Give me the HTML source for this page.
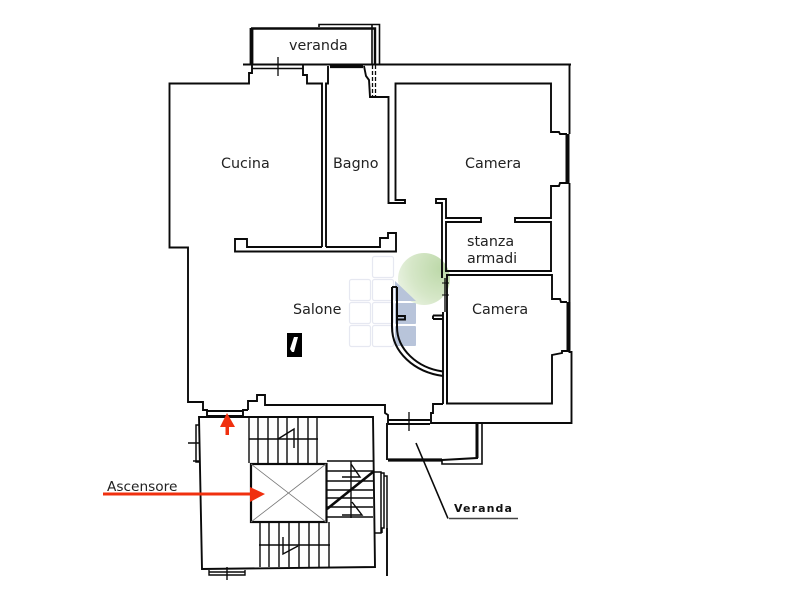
<!DOCTYPE html>
<html><head><meta charset="utf-8"><style>
html,body{margin:0;padding:0;background:#fff;width:800px;height:600px;overflow:hidden}
svg{display:block}
text{font-family:"DejaVu Sans",sans-serif;fill:#222}
</style></head><body>
<svg width="800" height="600" viewBox="0 0 800 600" xmlns="http://www.w3.org/2000/svg">
<defs><radialGradient id="g" cx="0.85" cy="0.3" r="1"><stop offset="0" stop-color="#bcd8a8"/><stop offset="0.6" stop-color="#d6e7c8"/><stop offset="1" stop-color="#eef5e8"/></radialGradient></defs>
<rect width="800" height="600" fill="#fff"/>
<!-- watermark -->
<circle cx="424" cy="279" r="26" fill="url(#g)"/>
<g fill="#fff" stroke="#e6e8f1" stroke-width="1.200">
<rect x="372.500" y="256.500" width="21" height="21" rx="2"/>
<rect x="349.500" y="279.500" width="21" height="21" rx="2"/>
<rect x="372.500" y="279.500" width="21" height="21" rx="2"/>
<rect x="349.500" y="302.500" width="21" height="21" rx="2"/>
<rect x="372.500" y="302.500" width="21" height="21" rx="2"/>
<rect x="349.500" y="325.500" width="21" height="21" rx="2"/>
<rect x="372.500" y="325.500" width="21" height="21" rx="2"/>
</g>
<g fill="#b8c4da">
<path d="M395 281L416 301H395Z"/>
<rect x="395" y="303" width="21" height="21" rx="1"/>
<rect x="395" y="326" width="21" height="20" rx="1"/>
</g>
<g fill="none" stroke="#0a0a0a" stroke-width="1.900">
<!-- Veranda top -->
<path d="M251 28.500H375V64" stroke-width="2.400"/>
<path d="M251.500 28V64" stroke-width="3.800"/>
<path d="M319 27V24.500H379.500V64M372 25V64" stroke-width="1.600"/>
<path d="M243 64.500H571" />
<path d="M252 68.500H303" stroke-width="1.500"/>
<path d="M278 57V76" stroke-width="1.300"/>
<path d="M330 66.500H363" stroke-width="3.200"/>
<!-- Cucina outer -->
<path d="M252 64V73H249V83.500H169.500V247.500H188V402H203V410H207V416"/>
<!-- column -->
<path d="M303 65V75H307V83.500H322V247M326 247V83.500H328V66"/>
<!-- Salone top wall -->
<path d="M322 247H247V239H235V251.500H396V233H388V238H380V247H326"/>
<!-- right of bagno -->
<path d="M364 66L366 76L369 80L370 97H388.500V203H405V200H395.500V83.500H551V132H559L560 134H567"/>
<path d="M372.500 65V97M375.500 65V97" stroke-dasharray="4 2" stroke-width="1.300"/>
<!-- outer right wall -->
<path d="M569.500 64V134M569.500 183V352L571.500 352V423H431V413H433V404H443"/>
<path d="M567.500 134V183" stroke-width="4"/>
<path d="M569 183H560L559 186H551V218H515V222H551V271H446V222H481V218H446V199H436V203H442V278"/>
<!-- Camera 2 -->
<path d="M446 275H552V299H560L561 302H567"/>
<path d="M568.500 302V350" stroke-width="4"/>
<path d="M570 351H562V353L552 355V403.500H447V275"/>
<path d="M445 278V312" stroke-width="1.400"/>
<path d="M443 312V404M447 312V404"/>
<path d="M433 315.500H443M433 319H443M433 315.500V319"/>
<path d="M442 283H449" stroke-width="1"/>
<path d="M442 295H449" stroke-width="1"/>
<!-- door arc -->
<path d="M392 287V327C392 352 414 372 443 376" stroke-width="2"/>
<path d="M397 287V327C397 349 417 368 443 371.500" stroke-width="2"/>
<path d="M392 287H397"/>
<path d="M396 316H405V319.500H396" />
<!-- bottom salone -->
<path d="M248 410V401H257V395H265V405H385V413L388 415V423"/>
<path d="M207 411H243M207 416H243"/>
<path d="M243 416V410H248"/>
<path d="M388 420H430M388 424H430"/>
<path d="M409 412V431" stroke-width="1.300"/>
<!-- veranda bottom -->
<path d="M387 423V460"/>
<path d="M388 460H442" stroke-width="3.200"/>
<path d="M442 460L477 458V423" stroke-width="2"/>
<path d="M442 460V464H482V423" stroke-width="1.600"/>
<path d="M477 423V458" stroke-width="3"/>
<!-- leader -->
<path d="M416 443L448 518.500" stroke-width="1.600"/>
<path d="M449 518.500H518" stroke-width="1.600" stroke="#444"/>
<!-- stair -->
<path d="M199 417H373L375 567L202 569L199 417Z"/>
<path d="M199 425H196V462H199M188 443H200M193 461H200" stroke-width="1.500"/>
<path d="M209 570V575H245V570M209 572H245M227 567V580" stroke-width="1.400"/>
<path d="M373 472H381V533H375M381 473H384V528H382V533M384 476H387V528" stroke-width="1.500"/>
<path d="M387 528V576" />
<g stroke-width="1.400">
<path d="M249 417V463M258 417V463M268 417V463M278 417V463M287 417V463M298 417V463M308 417V463M317 417V463M249 439H318"/>
<path d="M278 439L294 429V448"/>
<path d="M327 461H373M327 471H373M327 481H373M327 490H373M327 498H373M327 507H373M327 517H373"/>
<path d="M351 461V518M351 464L360 477H342M352 502L362 515H342"/>
<path d="M260 522V567M269 522V567M279 522V567M289 522V567M299 522V567M309 522V567M319 522V567M329 522V567M259 545H330"/>
<path d="M283 537V554L298 546"/>
</g>
<path d="M327 509L373 472" stroke-width="2.600"/>
<rect x="251" y="464" width="75.500" height="58" fill="#fff" stroke-width="2.200"/>
<path d="M251 464L326 522M326 464L251 522" stroke="#777" stroke-width="0.800"/>
</g>
<!-- symbol -->
<rect x="287" y="333" width="15" height="24" fill="#000"/>
<path d="M294 337H298L294 352H292L290 349Z" fill="#fff"/>
<!-- red arrows -->
<path d="M103 494H252" stroke="#f0300f" stroke-width="3"/>
<path d="M250 487L265 494L250 502Z" fill="#f0300f"/>
<path d="M227 413L235 427H229V435H225.500V427H220Z" fill="#f0300f"/>
<!-- labels -->
<text x="289" y="50" font-size="14.300">veranda</text>
<text x="221" y="168" font-size="14.300">Cucina</text>
<text x="333" y="168" font-size="14.300">Bagno</text>
<text x="465" y="168" font-size="14.300">Camera</text>
<text x="467" y="246" font-size="14.300">stanza</text>
<text x="467" y="263" font-size="14.300">armadi</text>
<text x="293" y="314" font-size="14.300">Salone</text>
<text x="472" y="314" font-size="14.300">Camera</text>
<text x="107" y="491" font-size="13.700">Ascensore</text>
<text x="454" y="512" font-size="11" font-weight="bold" letter-spacing="1.100" style="fill:#111">Veranda</text>
</svg>
</body></html>
